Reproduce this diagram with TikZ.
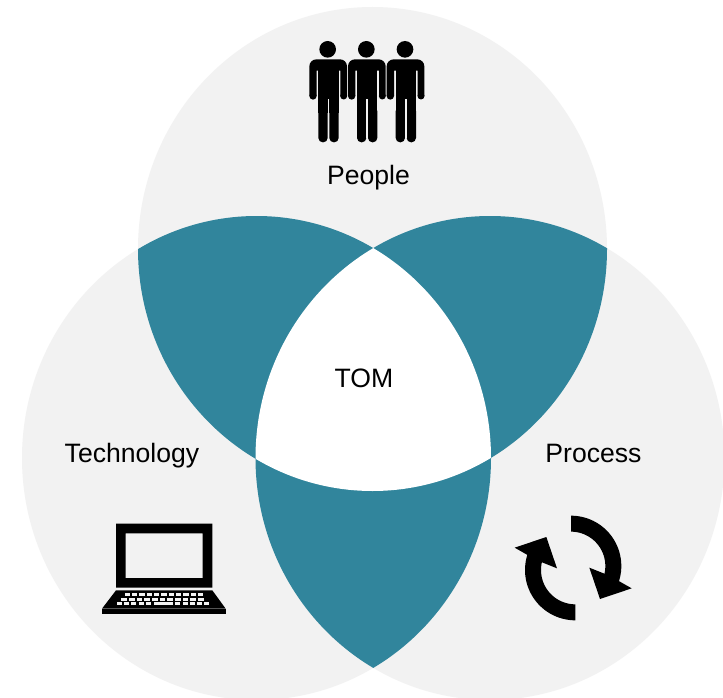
\documentclass[tikz,border=0pt]{standalone}
\usepackage{fontspec}
\setmainfont{Liberation Sans}
\definecolor{venngray}{HTML}{F2F2F2}
\definecolor{vennteal}{HTML}{31859C}
\newcommand{\ellT}{(372.5,249) ellipse [x radius=234.5,y radius=242]}
\newcommand{\ellL}{(256.5,458) ellipse [x radius=234.5,y radius=242]}
\newcommand{\ellR}{(490,458) ellipse [x radius=234.5,y radius=242]}
\newcommand{\personicon}[1]{%
  \begin{scope}[shift={(#1,0)}]
    \fill (113,58) circle (25);
    \fill (58,198) [rounded corners=7pt] -- (58,88) -- (171,88) [sharp corners] -- (171,198) -- (151,198) -- (151,122) -- (80,122) -- (80,198) -- cycle;
    \fill (69,198) circle (11);
    \fill (161,198) circle (10.5);
    \fill (85,110) rectangle (146,250);
    \fill[rounded corners=4.4pt] (85,230) rectangle (113,337);
    \fill[rounded corners=4.4pt] (118,230) rectangle (146,337);
    \fill[venngray] (113,206) rectangle (118,325);
  \end{scope}}
\newcommand{\keyrow}[4]{% y, first x, pitch, count
  \foreach \k in {1,...,#4} {\fill[venngray] ({#2+(\k-1)*#3},#1) rectangle ++(0.72*#3,9);}}
\begin{document}
\begin{tikzpicture}[x=1pt,y=-1pt,
    label text/.style={font=\fontsize{26.6}{31}\selectfont,text=black,inner sep=0pt,anchor=base}]
  \useasboundingbox (0,0) rectangle (723,698);
  \fill[white] (0,0) rectangle (723,698);
  % circles
  \fill[venngray] \ellT;
  \fill[venngray] \ellL;
  \fill[venngray] \ellR;
  % pairwise overlaps
  \begin{scope}\clip \ellT; \fill[vennteal] \ellL; \end{scope}
  \begin{scope}\clip \ellT; \fill[vennteal] \ellR; \end{scope}
  \begin{scope}\clip \ellL; \fill[vennteal] \ellR; \end{scope}
  % triple overlap
  \begin{scope}\clip \ellT; \clip \ellL; \fill[white] \ellR; \end{scope}
  % labels
  \node[label text] (people) at (368.5,184.5) {People};
  \node[label text] (tom) at (364,387.5) {TOM};
  \node[label text] (technology) at (132,462.5) {Technology};
  \node[label text] (process) at (593.5,462.5) {Process};
  % people icon
  \begin{scope}[shift={(290,30)},scale=1/3]
    \personicon{0}
    \personicon{116}
    \personicon{232}
  \end{scope}
  % laptop icon
  \begin{scope}[shift={(90,510)},scale=1/3]
    \fill[even odd rule] (78,41) rectangle (367,233) (107,70) rectangle (338,204);
    \fill (78,241)--(367,241)--(407,296)--(36,296)--cycle;
    \fill (36,298) rectangle (407,311);
    \keyrow{250}{104}{22}{11}
    \keyrow{264}{94}{23}{11}
    \keyrow{276}{81}{21.5}{5}
    \fill[venngray] (191,276) rectangle (250,285);
    \keyrow{276}{256}{21.5}{5}
  \end{scope}
  % cycle icon
  \begin{scope}[shift={(500,500)},scale=1/3]
    \fill (213,47)
      -- plot[domain=-90:17.5,samples=30] ({213+151*cos(\x)},{198+151*sin(\x)})
      -- (395,265) -- (300,297) -- (268,203)
      -- plot[domain=13:-90,samples=30] ({213+103*cos(\x)},{198+103*sin(\x)})
      -- cycle;
    \begin{scope}[rotate around={180:(219.5,204)}]
      \fill (213,47)
        -- plot[domain=-90:17.5,samples=30] ({213+151*cos(\x)},{198+151*sin(\x)})
        -- (395,265) -- (300,297) -- (268,203)
        -- plot[domain=13:-90,samples=30] ({213+103*cos(\x)},{198+103*sin(\x)})
        -- cycle;
    \end{scope}
  \end{scope}
\end{tikzpicture}
\end{document}
